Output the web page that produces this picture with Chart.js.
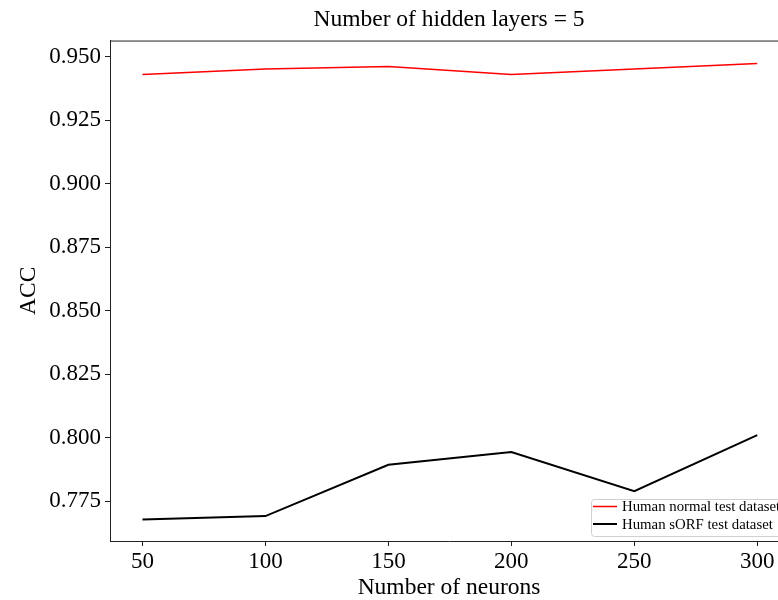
<!DOCTYPE html>
<html>
<head>
<meta charset="utf-8">
<script src="https://cdn.jsdelivr.net/npm/chart.js@4.4.0/dist/chart.umd.min.js"></script>
<style>
  html, body { margin: 0; padding: 0; background: #fff; overflow: hidden; }
  canvas { display: block; }
</style>
</head>
<body>
<canvas id="accChart" width="800" height="600"></canvas>
<script>
const neurons = [50, 100, 150, 200, 250, 300];
const normalAcc = [0.9429, 0.9451, 0.9461, 0.9429, 0.9451, 0.9473];
const sorfAcc = [0.7678, 0.7691, 0.7893, 0.7943, 0.7789, 0.8010];
const xTicks = [50, 100, 150, 200, 250, 300];
const yTicks = [0.775, 0.800, 0.825, 0.850, 0.875, 0.900, 0.925, 0.950];
const seriesLabels = ["Human normal test dataset", "Human sORF test dataset"];

const serif = "'Liberation Serif', 'Times New Roman', serif";
const axisColor = "#222";

// top spine (matplotlib draws a full frame)
const frame = {
  id: "frame",
  afterDraw(chart) {
    const { ctx, chartArea } = chart;
    ctx.save();
    ctx.strokeStyle = axisColor;
    ctx.lineWidth = 1;
    ctx.beginPath();
    ctx.moveTo(chartArea.left, chartArea.top + 0.5);
    ctx.lineTo(chartArea.right, chartArea.top + 0.5);
    ctx.lineTo(chartArea.right, chartArea.bottom);
    ctx.stroke();
    ctx.restore();
  }
};

// legend in the lower right of the axes, like matplotlib's loc="lower right"
const legendBox = {
  id: "legendBox",
  afterDraw(chart) {
    const { ctx, chartArea } = chart;
    const x = 591, y = 499, w = chartArea.right - 4 - x, h = 37;
    ctx.save();
    ctx.fillStyle = "rgba(255,255,255,0.8)";
    ctx.strokeStyle = "#d0d0d0";
    ctx.lineWidth = 1;
    ctx.beginPath();
    ctx.roundRect(x + 0.5, y + 0.5, w, h, 3);
    ctx.fill();
    ctx.stroke();
    chart.data.datasets.forEach((ds, i) => {
      const ly = 506.5 + i * 17.5;
      ctx.strokeStyle = ds.borderColor;
      ctx.lineWidth = ds.borderWidth;
      ctx.beginPath();
      ctx.moveTo(593, ly);
      ctx.lineTo(617, ly);
      ctx.stroke();
      ctx.fillStyle = "#000";
      ctx.font = "14.8px " + serif;
      ctx.textBaseline = "middle";
      ctx.fillText(ds.label, 622, ly + 1);
    });
    ctx.restore();
  }
};

const ctxAcc = document.getElementById("accChart").getContext("2d");

const accChart = new Chart(ctxAcc, {
  type: "line",
  data: {
    datasets: [
      {
        label: seriesLabels[0],
        data: neurons.map((n, i) => ({ x: n, y: normalAcc[i] })),
        borderColor: "#ff0000",
        borderWidth: 1.5,
        pointRadius: 0,
        tension: 0,
      },
      {
        label: seriesLabels[1],
        data: neurons.map((n, i) => ({ x: n, y: sorfAcc[i] })),
        borderColor: "#000000",
        borderWidth: 2,
        pointRadius: 0,
        tension: 0,
      },
    ],
  },
  options: {
    responsive: false,
    animation: false,
    layout: { padding: { left: 0, right: 12, top: 0, bottom: 0 } },
    scales: {
      x: {
        type: "linear",
        min: 36.8,
        max: 312.5,
        afterFit: (s) => { s.height = 59; },
        afterBuildTicks: (s) => { s.ticks = xTicks.map((v) => ({ value: v })); },
        grid: { drawOnChartArea: false, drawTicks: true, tickLength: 5, color: axisColor },
        border: { display: true, color: axisColor, width: 1 },
        ticks: {
          color: "#000",
          padding: 2,
          maxRotation: 0,
          font: { family: serif, size: 23 },
        },
        title: {
          display: true,
          text: "Number of neurons",
          color: "#000",
          padding: { top: 0, bottom: 0 },
          font: { family: serif, size: 23.5, lineHeight: 1.0 },
        },
      },
      y: {
        type: "linear",
        min: 0.7593,
        max: 0.9563,
        afterFit: (s) => { s.width = 110; },
        afterBuildTicks: (s) => { s.ticks = yTicks.map((v) => ({ value: v })); },
        grid: { drawOnChartArea: false, drawTicks: true, tickLength: 5, color: axisColor },
        border: { display: true, color: axisColor, width: 1 },
        ticks: {
          color: "#000",
          padding: 4,
          font: { family: serif, size: 23 },
          callback: (v) => v.toFixed(3),
        },
        title: {
          display: true,
          text: "ACC",
          color: "#000",
          padding: { top: 17, bottom: 0 },
          font: { family: serif, size: 23.5, lineHeight: 1.0 },
        },
      },
    },
    plugins: {
      legend: { display: false },
      tooltip: { enabled: false },
      title: {
        display: true,
        fullSize: false,
        text: "Number of hidden layers = 5",
        color: "#000",
        padding: { top: 7, bottom: 7 },
        font: { family: serif, size: 23.5, weight: "normal", lineHeight: 1.13 },
      },
    },
  },
  plugins: [frame, legendBox],
});
</script>
</body>
</html>
